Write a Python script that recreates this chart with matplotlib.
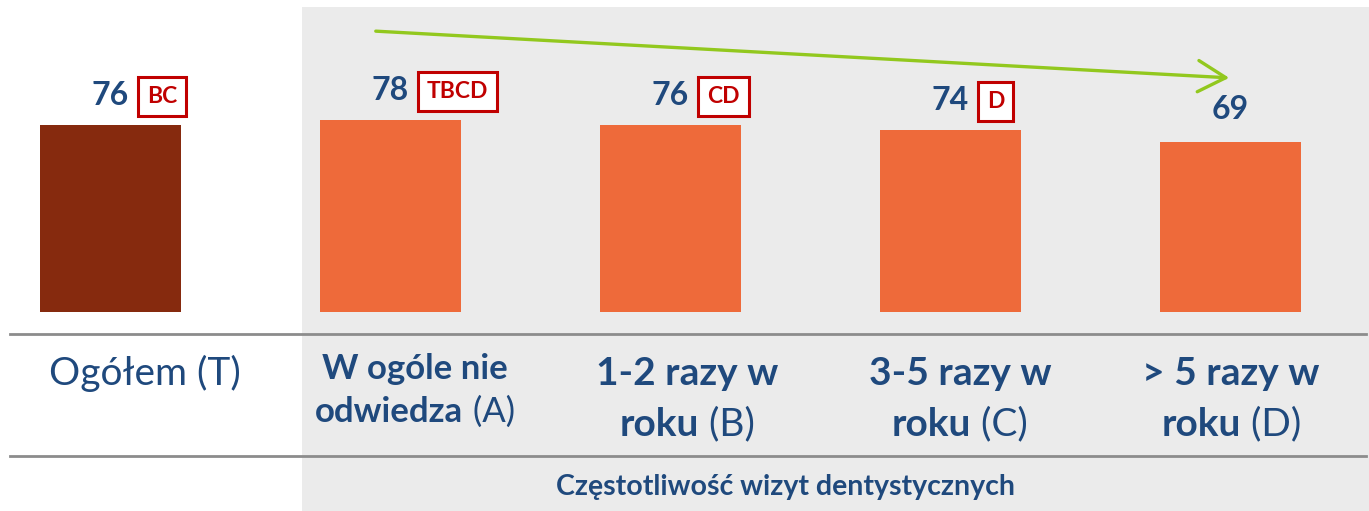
import matplotlib
matplotlib.use("Agg")
import matplotlib.pyplot as plt
from matplotlib.patches import Rectangle

# data
values = [76, 78, 76, 74, 69]
sig_letters = ["BC", "TBCD", "CD", "D", ""]
bar_colors = ["#862A0E", "#EE6A3A", "#EE6A3A", "#EE6A3A", "#EE6A3A"]
label_bold = ["", "W ogóle nie\nodwiedza", "1-2 razy w\nroku", "3-5 razy w\nroku", "> 5 razy w\nroku"]
label_tag = ["Ogółem (T)", "(A)", "(B)", "(C)", "(D)"]
group_title = "Częstotliwość wizyt dentystycznych"

W, H = 1369, 511
BLUE = "#1F497D"
RED = "#C00000"
plt.rcParams['font.family'] = ['Lato', 'DejaVu Sans']

fig = plt.figure(figsize=(W / 100, H / 100), dpi=100)
ax = fig.add_axes([0, 0, 1, 1])
ax.set_axis_off()

# pixel helpers (layout only)
def fx(px):
    return px / W

def fy(py):
    return 1 - py / H

# scales: bar centres every 280 px starting at 110.5, baseline at y=312 px
ax.set_xlim(-110.5 / 280, (W - 110.5) / 280)
ppu = 187 / 76.0
ax.set_ylim(-(H - 312) / ppu, 312 / ppu)

ax.add_patch(Rectangle((fx(302), 0), 1 - fx(302), fy(7), transform=ax.transAxes,
                       facecolor="#EBEBEB", edgecolor="none", zorder=0))

xs = list(range(len(values)))
ax.bar(xs, values, width=141 / 280, color=bar_colors, zorder=2)

for x, v, s in zip(xs, values, sig_letters):
    y = v + 12
    if s:
        ax.text(x + 0.065, y, str(v), ha="right", va="center", fontsize=23,
                fontweight="bold", color=BLUE, zorder=3)
        ax.text(x + 0.13, y - 0.5, s, ha="left", va="center", fontsize=16.5,
                fontweight="bold", color=RED, zorder=3,
                bbox=dict(boxstyle="square,pad=0.4", fc="white", ec=RED, lw=2.2))
    else:
        ax.text(x, y + 1.5, str(v), ha="center", va="center", fontsize=23,
                fontweight="bold", color=BLUE, zorder=3)

# trend arrow
ax.annotate("", xy=(fx(1232), fy(78)), xytext=(fx(373), fy(31)),
            xycoords=ax.transAxes, textcoords=ax.transAxes,
            arrowprops=dict(arrowstyle="->,head_length=0.8,head_width=0.45",
                            color="#92C81E", lw=2.4, mutation_scale=25), zorder=3)

# separator lines
for py in (334, 456):
    ax.plot([fx(10), fx(1366)], [fy(py), fy(py)], transform=ax.transAxes,
            color="#8C8C8C", lw=2, zorder=2)

renderer = fig.canvas.get_renderer()

def mixed_line(parts, cx, cy, size):
    texts = []
    for s, w in parts:
        texts.append(fig.text(0, fy(cy), s, fontsize=size, fontweight=w,
                              color=BLUE, ha="left", va="center"))
    widths = [t.get_window_extent(renderer).width for t in texts]
    x = cx - sum(widths) / 2
    for t, wd in zip(texts, widths):
        t.set_x(fx(x))
        x += wd

label_cx = [145, 415, 687, 960, 1231]

# category labels
mixed_line([(label_tag[0], "normal")], label_cx[0], 373, 28)
for i in xs[1:]:
    line1, line2 = label_bold[i].split("\n")
    if i == 1:
        size, y1, y2 = 25, 369, 412
    else:
        size, y1, y2 = 28, 373, 424
    mixed_line([(line1, "bold")], label_cx[i], y1, size)
    mixed_line([(line2, "bold"), (" " + label_tag[i], "normal")], label_cx[i], y2, size)

fig.text(fx(785), fy(487), group_title, fontsize=20.5, fontweight="bold",
         color=BLUE, ha="center", va="center")

fig.savefig("out.png", dpi=100)
